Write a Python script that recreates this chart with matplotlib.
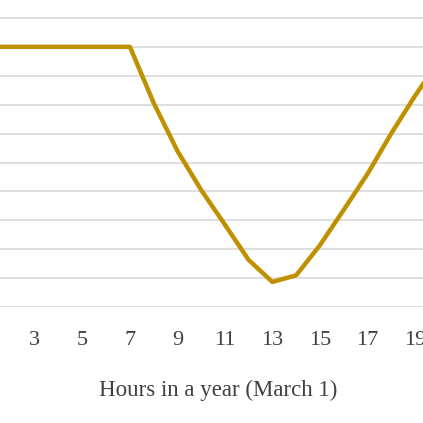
import matplotlib
matplotlib.use('Agg')
import matplotlib.pyplot as plt

hours = [1, 2, 3, 4, 5, 6, 7, 8, 9, 10, 11, 12, 13, 14, 15, 16, 17, 18, 19, 20]
values = [9.0, 9.0, 9.0, 9.0, 9.0, 9.0, 9.0, 7.06, 5.4, 4.05, 2.85, 1.63, 0.87, 1.1, 2.14, 3.36, 4.6, 6.0, 7.3, 8.5]
tick_hours = [3, 5, 7, 9, 11, 13, 15, 17, 19]

plt.rcParams['font.family'] = ['Liberation Serif', 'DejaVu Serif']
fig = plt.figure(figsize=(4.23, 4.23), dpi=100)
ax = fig.add_axes([0, 0.274, 1, 0.726])
ax.plot(hours, values, color='#BF9000', linewidth=3.2, solid_joinstyle='round')
ax.set_xlim(1.53, 19.34)
ax.set_ylim(0, 10.62)
ax.set_yticks(range(0, 11))
ax.yaxis.grid(True, color='#D9D9D9', linewidth=1.2)
ax.set_axisbelow(True)
ax.tick_params(axis='y', left=False, labelleft=False)
ax.set_xticks(tick_hours)
ax.tick_params(axis='x', length=0, pad=17, labelsize=16, labelcolor='#404040')
for s in ax.spines.values():
    s.set_visible(False)
fig.text(0.515, 0.078, 'Hours in a year (March 1)', ha='center', va='center',
         fontsize=16.5, color='#404040')
fig.savefig('out.png', dpi=100)
